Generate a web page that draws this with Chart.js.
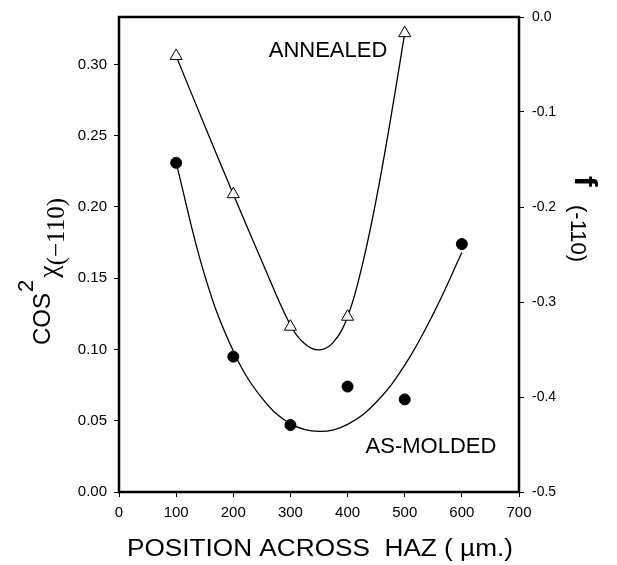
<!DOCTYPE html>
<html><head><meta charset="utf-8">
<script src="https://cdn.jsdelivr.net/npm/chart.js@4.4.0/dist/chart.umd.min.js"></script>
<style>html,body{margin:0;padding:0;background:#fff}</style>
</head><body>
<canvas id="c" width="617" height="565" style="display:block"></canvas>
<script>
// ---- data ----
const annealedX = [100, 200, 300, 400, 500];
const annealedCos2 = [0.306, 0.209, 0.116, 0.123, 0.322];
const moldedX = [100, 200, 300, 400, 500, 600];
const moldedCos2 = [0.231, 0.095, 0.047, 0.074, 0.065, 0.174];
// fitted curves
const annealedFitX = [100, 150, 200, 250, 300, 325, 350, 375, 400, 425, 450, 475, 500];
const annealedFitY = [0.306, 0.257, 0.209, 0.162, 0.117, 0.104, 0.0997, 0.105, 0.123, 0.158, 0.205, 0.261, 0.322];
const moldedFitX = [100, 150, 200, 250, 300, 350, 400, 450, 500, 550, 600];
const moldedFitY = [0.231, 0.152, 0.099, 0.066, 0.048, 0.0425, 0.0475, 0.063, 0.089, 0.125, 0.168];
// tick labels
const xTicks = [0, 100, 200, 300, 400, 500, 600, 700];
const leftTicks = [0.00, 0.05, 0.10, 0.15, 0.20, 0.25, 0.30];
const rightTicks = [0.0, -0.1, -0.2, -0.3, -0.4, -0.5];
const labelAnnealed = "ANNEALED";
const labelMolded = "AS-MOLDED";
const xTitle = "POSITION ACROSS  HAZ ( \u00B5m.)";

const SANS = '"Liberation Sans", Arial, sans-serif';
const SERIF = '"Liberation Serif", "Times New Roman", serif';

const pts = (xs, ys) => xs.map((x, i) => ({x, y: ys[i]}));

const textPlugin = {
  id: 'texts',
  afterDraw(chart) {
    const ctx = chart.ctx;
    const a = chart.chartArea;
    ctx.save();
    // frame
    ctx.strokeStyle = '#000';
    ctx.lineWidth = 2.5;
    ctx.strokeRect(a.left, a.top, a.right - a.left, a.bottom - a.top);
    ctx.fillStyle = '#000';
    // series labels
    ctx.font = '22px ' + SANS;
    ctx.textAlign = 'center';
    ctx.textBaseline = 'alphabetic';
    ctx.fillText(labelAnnealed, a.left + 209, a.top + 40);
    ctx.fillText(labelMolded, a.left + 312, a.bottom - 39);
    // bottom title
    ctx.save();
    ctx.font = '23px ' + SANS;
    const w = ctx.measureText(xTitle).width;
    ctx.translate(320, 556);
    ctx.scale(386 / w, 1);
    ctx.textAlign = 'center';
    ctx.fillText(xTitle, 0, 0);
    ctx.restore();
    // left title (rotated)
    ctx.save();
    ctx.translate(50, 345);
    ctx.rotate(-Math.PI / 2);
    ctx.textAlign = 'left';
    ctx.font = '24px ' + SANS;
    ctx.fillText('COS', 0, 0);
    let off = ctx.measureText('COS').width + 1;
    ctx.font = '22px ' + SANS;
    ctx.fillText('2', off, -17);
    off += ctx.measureText('2').width + 2;
    ctx.font = '28px ' + SERIF;
    ctx.fillText('\u03C7', off, 7);
    off += ctx.measureText('\u03C7').width;
    ctx.font = '25px ' + SERIF;
    ctx.fillText('(\u2212110)', off, 14);
    ctx.restore();
    // right title (rotated clockwise)
    ctx.save();
    ctx.translate(575, 176);
    ctx.rotate(Math.PI / 2);
    ctx.textAlign = 'left';
    ctx.font = 'bold 32px ' + SANS;
    ctx.fillText('f', 0, 0);
    ctx.font = '22px ' + SANS;
    ctx.fillText('(-110)', 29, 4);
    ctx.restore();
    ctx.restore();
  }
};

const tickFont = {family: SANS, size: 15};
const gridOpts = {display: true, drawOnChartArea: false, drawTicks: true, tickLength: 5, color: '#000', lineWidth: 1};

new Chart(document.getElementById('c'), {
  type: 'scatter',
  data: {
    datasets: [
      {label: 'ANNEALED', data: pts(annealedX, annealedCos2), showLine: false,
       pointStyle: 'triangle', pointRadius: 7, pointBorderWidth: 1,
       pointBackgroundColor: '#fff', pointBorderColor: '#000', order: 0, clip: false},
      {label: 'AS-MOLDED', data: pts(moldedX, moldedCos2), showLine: false,
       pointStyle: 'circle', pointRadius: 5.5, pointBorderWidth: 1,
       pointBackgroundColor: '#000', pointBorderColor: '#000', order: 0, clip: false},
      {label: 'annealed fit', data: pts(annealedFitX, annealedFitY), showLine: true,
       pointRadius: 0, borderColor: '#000', borderWidth: 1.3, tension: 0.4, order: 1},
      {label: 'molded fit', data: pts(moldedFitX, moldedFitY), showLine: true,
       pointRadius: 0, borderColor: '#000', borderWidth: 1.3, tension: 0.4, order: 1}
    ]
  },
  options: {
    responsive: false,
    animation: false,
    events: [],
    layout: {padding: {top: 17, left: 0, right: 0, bottom: 0}},
    plugins: {legend: {display: false}, tooltip: {enabled: false}},
    scales: {
      x: {
        type: 'linear', position: 'bottom', min: 0, max: 700,
        grid: gridOpts, border: {display: false},
        ticks: {font: tickFont, color: '#000', padding: 7, maxRotation: 0,
                callback: v => String(v)},
        afterBuildTicks: s => { s.ticks = xTicks.map(v => ({value: v})); },
        afterFit: s => { s.height = 73; }
      },
      y: {
        type: 'linear', position: 'left', min: 0, max: 1/3,
        grid: gridOpts, border: {display: false},
        ticks: {font: tickFont, color: '#000', padding: 7, callback: v => v.toFixed(2)},
        afterBuildTicks: s => { s.ticks = leftTicks.map(v => ({value: v})); },
        afterFit: s => { s.width = 119; }
      },
      y2: {
        type: 'linear', position: 'right', min: -0.5, max: 0,
        grid: gridOpts, border: {display: false},
        ticks: {font: {family: SANS, size: 14}, color: '#000', padding: 8, callback: v => v.toFixed(1)},
        afterBuildTicks: s => { s.ticks = rightTicks.map(v => ({value: v})); },
        afterFit: s => { s.width = 98; }
      }
    }
  },
  plugins: [textPlugin]
});
</script>
</body></html>
